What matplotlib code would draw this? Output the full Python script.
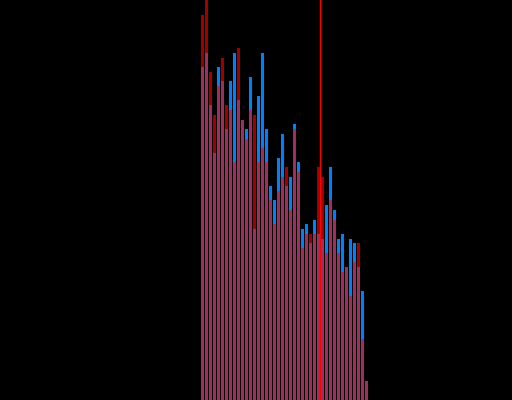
import numpy as np
import matplotlib
matplotlib.use("Agg")
from matplotlib import pyplot as plt

# bin index for each bar
bins = np.arange(42)

# heights (pixels above the bottom edge)
blue_counts = [333, 347, 295, 247, 333, 319, 271, 319, 347, 300,
               280, 271, 323, 171, 304, 347, 271, 214, 200, 242,
               266, 214, 223, 276, 238, 171, 176, 157, 180, 166,
               161, 195, 233, 190, 161, 166, 133, 161, 157, 133,
               109, 19]
red_counts = [385, 405, 328, 285, 314, 342, 295, 290, 238, 352,
              280, 261, 290, 285, 238, 252, 238, 200, 176, 209,
              223, 233, 190, 271, 228, 152, 166, 166, 166, 233,
              223, 147, 200, 180, 147, 128, 133, 104, 138, 157,
              61, 19]

# position of the vertical marker, in bin units
marker_x = 29.85

fig = plt.figure(figsize=(5.12, 4.0), dpi=100, facecolor="black")
ax = fig.add_axes([0, 0, 1, 1])
ax.set_facecolor("black")

# blue histogram underneath, red one on top with alpha -> pink where they overlap
ax.bar(bins, blue_counts, width=0.75, align="edge", color="#0080ff", linewidth=0)
ax.bar(bins, red_counts, width=0.75, align="edge", color="#ff0000", alpha=0.63, linewidth=0)
ax.axvline(marker_x, color="#ff0000", linewidth=1.0)

ax.set_xlim(-201 / 4, (512 - 201) / 4)
ax.set_ylim(0, 400)
ax.axis("off")

fig.savefig("out.png", dpi=100, facecolor="black")
